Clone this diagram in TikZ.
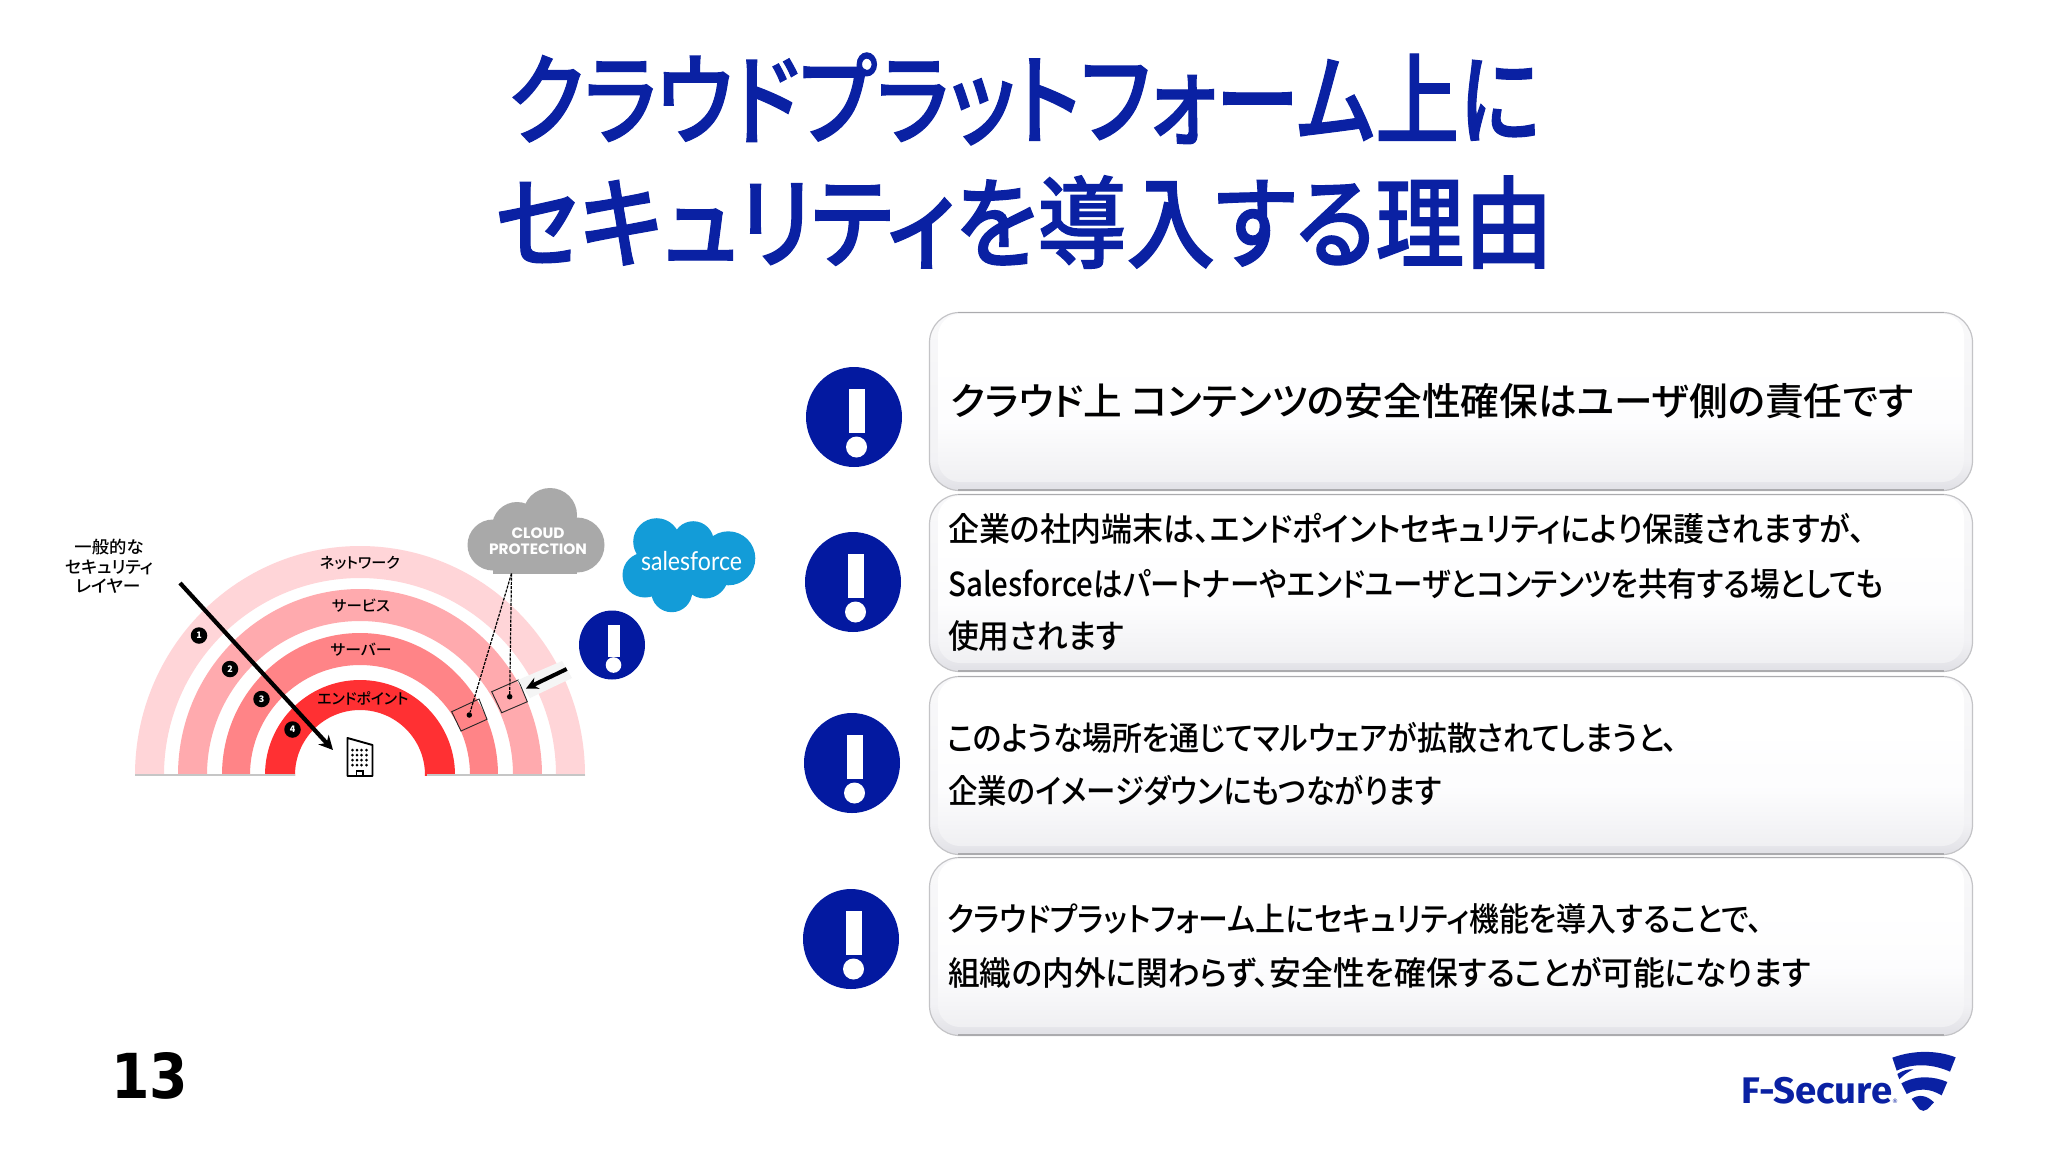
\documentclass[tikz,border=0pt]{standalone}
\usepackage{graphicx}
\usepackage{fontspec}
\usetikzlibrary{shapes.geometric,arrows.meta}
\setmainfont{Noto Sans CJK JP}[RawFeature=+palt]
\newfontfamily\jpmed{Noto Sans CJK JP Medium}[RawFeature=+palt]
\newfontfamily\jptitle{Noto Sans CJK JP Medium}[RawFeature=+palt,FakeBold=1.2]
\newfontfamily\latinb{Poppins}
\newfontfamily\djv{DejaVu Sans}
\newfontfamily\fira{Fira Sans}
\newfontfamily\lato{Lato}
\definecolor{navy}{HTML}{0A21A3}
\definecolor{alert}{HTML}{0319A0}
\definecolor{bandA}{HTML}{FFD5D8}
\definecolor{bandB}{HTML}{FFAAAE}
\definecolor{bandC}{HTML}{FF8487}
\definecolor{bandD}{HTML}{FF3033}
\definecolor{cloudgray}{HTML}{A9A9A9}
\definecolor{sfblue}{HTML}{139CD8}
\definecolor{edgegray}{HTML}{CFCFD2}
\definecolor{rimgray}{HTML}{ABABAE}
\definecolor{sidegray}{HTML}{C4C4C7}
\definecolor{basegray}{HTML}{C6C6C6}
\pgfdeclareverticalshading{bevelrim}{100bp}{
  rgb(0bp)=(0.86,0.86,0.88);
  rgb(25bp)=(0.88,0.88,0.90);
  rgb(34bp)=(0.95,0.95,0.96);
  rgb(75bp)=(0.975,0.975,0.98);
  rgb(100bp)=(0.975,0.975,0.98)}
\pgfdeclareverticalshading{bevelface}{100bp}{
  rgb(0bp)=(0.94,0.94,0.95);
  rgb(25bp)=(0.94,0.94,0.95);
  rgb(42bp)=(0.99,0.99,0.995);
  rgb(60bp)=(1,1,1);
  rgb(100bp)=(1,1,1)}
\newcommand{\fitw}[2]{\resizebox{#1pt}{\height}{#2}}
\newcommand{\jfs}[1]{\fontsize{#1}{#1}\selectfont}
\newcommand{\band}[5]{% colour, outer rx, outer ry, inner rx, inner ry
  \begin{scope}
    \clip (0,0) rectangle (2048,775);
    \fill[#1,even odd rule] (360,775) ellipse [x radius=#2,y radius=#3]
       (360,775) ellipse [x radius=#4,y radius=#5];
  \end{scope}}
\newcommand{\alertmark}[2]{% x,y
  \node[alertdisc] at (#1,#2) {};
  \fill[white] (#1-5.5,#2-28.5) rectangle (#1+11,#2+16);
  \fill[white] (#1+2.5,#2+30) circle [radius=10.5];}
\newcommand{\panel}[2]{% top, bottom
  \shade[shading=bevelrim,draw=sidegray,line width=1.2,rounded corners=30] (929.5,#1+0.5) rectangle (1972.5,#2-0.5);
  \shade[shading=bevelface,rounded corners=22] (938,#1+2) rectangle (1964,#2-9);
  \draw[rimgray,line width=1.2] (958,#1+0.6) -- (1944,#1+0.6);
  \draw[rimgray,line width=2] (958,#2-1) -- (1944,#2-1);}
\tikzset{
  alertdisc/.style={ellipse,fill=alert,inner sep=0,minimum width=96,minimum height=100},
  titletext/.style={text=navy,inner sep=0,anchor=west,font=\jptitle\jfs{100}},
  bodytext/.style={text=black,inner sep=0,anchor=west,font=\jpmed\jfs{33}},
  layertext/.style={text=black,inner sep=0,font=\jpmed\jfs{15}},
  sidetext/.style={text=black,inner sep=0,font=\jpmed\jfs{17}},
  stepdot/.style={circle,fill=black,text=white,inner sep=0,minimum size=16.5,font=\bfseries\jfs{9}},
  tile/.style={draw=black!85,line width=0.9},
  tipdot/.style={circle,fill=black,inner sep=0,minimum size=5.5},
  dashlink/.style={draw=black,line width=1.2,dash pattern=on 3pt off 1.2pt},
  fatarrow/.style={draw=black,line width=4.2,-{Stealth[length=14pt,width=14pt]}},
}
\begin{document}
\begin{tikzpicture}[x=1pt,y=-1pt]
\useasboundingbox (0,0) rectangle (2048,1152);
\fill[white] (0,0) rectangle (2048,1152);

% title
\node[titletext] (title1) at (508,99) {\fitw{1032}{クラウドプラットフォーム上に}};
\node[titletext] (title2) at (495,222) {\fitw{1058}{セキュリティを導入する理由}};

% panels
\panel{312}{491}
\panel{494}{672}
\panel{676}{855}
\panel{857}{1036}

% alert marks
\alertmark{854}{417}
\alertmark{853}{582}
\alertmark{852}{763}
\alertmark{851}{939}

% panel text
\node[bodytext,font=\jpmed\jfs{38}] (t1) at (950,401) {\fitw{963}{クラウド上 コンテンツの安全性確保はユーザ側の責任です}};
\node[bodytext] (t2a) at (948,529) {\fitw{917}{企業の社内端末は、エンドポイントセキュリティにより保護されますが、}};
\node[bodytext] (t2b) at (948,584) {\fitw{935}{Salesforceはパートナーやエンドユーザとコンテンツを共有する場としても}};
\node[bodytext] (t2c) at (948,636) {\fitw{176}{使用されます}};
\node[bodytext] (t3a) at (947,738) {\fitw{731}{このような場所を通じてマルウェアが拡散されてしまうと、}};
\node[bodytext] (t3b) at (948,791) {\fitw{494}{企業のイメージダウンにもつながります}};
\node[bodytext] (t4a) at (947,919) {\fitw{816}{クラウドプラットフォーム上にセキュリティ機能を導入することで、}};
\node[bodytext] (t4b) at (948,973) {\fitw{863}{組織の内外に関わらず、安全性を確保することが可能になります}};

% rainbow
\band{bandA}{225}{229}{196}{197}
\band{bandB}{182}{186}{153}{154}
\band{bandC}{138}{142}{110}{110}
\band{bandD}{95}{95}{65}{65}
\draw[basegray,line width=2] (135,775) -- (295,775);
\draw[basegray,line width=2] (427,775) -- (585,775);

% layer labels
\node[layertext] (lnet) at (360,563) {\fitw{80}{ネットワーク}};
\node[layertext] (lsrv) at (361,606) {\fitw{58}{サービス}};
\node[layertext] (lhost) at (361,650) {\fitw{61}{サーバー}};
\node[layertext] (lend) at (363,698) {\fitw{91}{エンドポイント}};
\node[sidetext] (s1) at (109,547) {\fitw{69}{一般的な}};
\node[sidetext] (s2) at (109,567) {\fitw{88}{セキュリティ}};
\node[sidetext] (s3) at (108,586) {\fitw{65}{レイヤー}};

% building
\draw[black,line width=1.9,line join=round,fill=white] (347.5,738) -- (372.5,745) -- (372.5,776) -- (347.5,776) -- cycle;
\foreach \cx in {352.5,357,361.5,366.5} \foreach \cy in {750,755,760,765}
  \fill[black] (\cx,\cy) circle [radius=1.5];
\draw[black,line width=1.5] (356.5,776) -- (356.5,771) -- (363,771) -- (363,776);

% main arrow
\coordinate (mainS) at (180,583);
\coordinate (mainE) at (333,750);
\draw[fatarrow] (mainS) -- (mainE);
\node[stepdot] (d1) at (199,635.5) {1};
\node[stepdot] (d2) at (230,669) {2};
\node[stepdot] (d3) at (261.5,699) {3};
\node[stepdot] (d4) at (292.5,729.5) {4};

% cloud
\fill[cloudgray] (493,545) circle [radius=25.5];
\fill[cloudgray] (550,515) circle [radius=27];
\fill[cloudgray] (517,527) circle [radius=25];
\fill[cloudgray] (577,545) circle [radius=27.5];
\fill[cloudgray] (493,530) rectangle (577,573.5);
\node[inner sep=0,text=white,font=\latinb\bfseries\jfs{15}] (cloudA) at (538,533.5) {\fitw{53}{CLOUD}};
\node[inner sep=0,text=white,font=\latinb\bfseries\jfs{15}] (cloudP) at (538,549) {\fitw{98}{PROTECTION}};
\coordinate (cloudB) at (511.5,573.5);

% tiles
\draw[tile] (491.7,691.7) -- (518.3,680) -- (527.3,701.7) -- (501.7,712.7) -- cycle;
\draw[tile] (451.7,711.7) -- (479,699) -- (487,719.3) -- (461,731) -- cycle;
\node[tipdot] (tipA) at (509.7,696.7) {};
\node[tipdot] (tipB) at (469.3,715) {};
\draw[dashlink] (cloudB) -- (tipA);
\draw[dashlink] (cloudB) -- (tipB);

% small arrow with halo
\fill[black!4] (562,661) -- (572,678) -- (530,698) -- (518,680) -- cycle;
\coordinate (smS) at (566.7,669);
\coordinate (smE) at (526,688.5);
\draw[draw=black,line width=4,-{Stealth[length=12pt,width=12pt]}] (smS) -- (smE);

% small alert
\begin{scope}
  \clip (560,600) rectangle (660,679.3);
  \fill[alert] (612,645) ellipse [x radius=33,y radius=34.5];
\end{scope}
\fill[white] (607.5,625) rectangle (620,657);
\fill[white] (613.5,665) circle [radius=7.8];

% salesforce cloud
\fill[sfblue] (656.7,541.7) circle [radius=23.5]
  (693.3,541.7) circle [radius=20.5]
  (728.3,558.3) circle [radius=27]
  (705,575) circle [radius=23.5]
  (671.7,591.7) circle [radius=20.5]
  (645,575) circle [radius=22.5]
  (686.7,563.3) circle [radius=28];
\node[inner sep=0,text=white,font=\lato\jfs{26}] (sf) at (691.5,561) {\fitw{101}{salesforce}};

% page number
\node[inner sep=0,text=black,font=\djv\bfseries\jfs{62},anchor=west] (pg) at (111,1076) {\fitw{77}{13}};

% logo
\node[inner sep=0,text=navy,font=\fira\bfseries\jfs{37},anchor=west] (logo) at (1741,1091) {\fitw{151}{F-Secure}};
\node[inner sep=0,text=navy,font=\djv\jfs{6}] (reg) at (1895,1101) {®};
\begin{scope}[shift={(1680,1020)},scale=0.3333]
  \fill[navy] (637,113) .. controls (700,90) and (770,90) .. (827,112) -- (810,155)
     .. controls (760,132) and (700,128) .. (650,152) -- cycle;
  \fill[navy] (652,162) .. controls (670,150) and (685,147) .. (700,148)
     .. controls (685,155) and (670,165) .. (658,178) -- cycle;
  \fill[navy] (664,190) .. controls (710,165) and (760,168) .. (802,186) -- (785,226)
     .. controls (750,205) and (715,203) .. (680,222) -- cycle;
  \fill[navy] (695,237) .. controls (715,222) and (740,225) .. (762,247) -- (742,268)
     .. controls (735,274) and (725,274) .. (718,268) -- cycle;
\end{scope}
\end{tikzpicture}
\end{document}
